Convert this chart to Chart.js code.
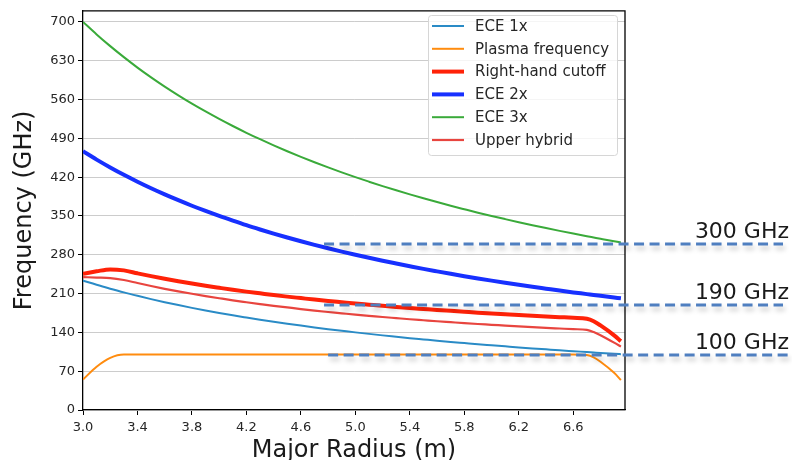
<!DOCTYPE html>
<html lang="en">
<head>
<meta charset="UTF-8">
<title>Frequency vs Major Radius</title>
<script src="https://cdn.jsdelivr.net/npm/chart.js@4.4.0/dist/chart.umd.min.js"></script>
<style>
  html, body { margin: 0; padding: 0; background: #fff; }
  #wrap { width: 792px; height: 460px; }
</style>
</head>
<body>
<div id="wrap"><canvas id="myChart" width="792" height="460"></canvas></div>
<script>
// major radius samples (m)
const radius = [3.0, 3.1, 3.2, 3.3, 3.4, 3.5, 3.6, 3.7, 3.8, 3.9,
                4.0, 4.1, 4.2, 4.3, 4.4, 4.5, 4.6, 4.7, 4.8, 4.9,
                5.0, 5.1, 5.2, 5.3, 5.4, 5.5, 5.6, 5.7, 5.8, 5.9,
                6.0, 6.1, 6.2, 6.3, 6.4, 6.5, 6.6, 6.7, 6.75, 6.8,
                6.9, 6.95];

// frequencies (GHz)
const ece1x = [233.3, 225.8, 218.8, 212.1, 205.9, 200.0, 194.4, 189.2, 184.2, 179.5,
               175.0, 170.7, 166.7, 162.8, 159.1, 155.6, 152.2, 148.9, 145.8, 142.9,
               140.0, 137.3, 134.6, 132.1, 129.6, 127.3, 125.0, 122.8, 120.7, 118.6,
               116.7, 114.8, 112.9, 111.1, 109.4, 107.7, 106.1, 104.5, 103.7, 102.9,
               101.4, 100.7];
const plasmaF = [55, 78, 94, 100, 100, 100, 100, 100, 100, 100,
                 100, 100, 100, 100, 100, 100, 100, 100, 100, 100,
                 100, 100, 100, 100, 100, 100, 100, 100, 100, 100,
                 100, 100, 100, 100, 100, 100, 100, 99, 95, 87,
                 67, 54];
const rhCutoff = [245.6, 250.1, 253.6, 251.8, 246.5, 241.4, 236.7, 232.3, 228.1, 224.1,
                  220.4, 216.8, 213.5, 210.4, 207.3, 204.5, 201.8, 199.1, 196.7, 194.4,
                  192.1, 190.0, 187.9, 185.9, 184.0, 182.2, 180.4, 178.8, 177.2, 175.6,
                  174.1, 172.7, 171.3, 170.0, 168.7, 167.5, 166.3, 164.6, 160.1, 152.5,
                  134.7, 124.2];
const ece2x = [466.7, 451.6, 437.5, 424.2, 411.8, 400.0, 388.9, 378.4, 368.4, 359.0,
               350.0, 341.5, 333.3, 325.6, 318.2, 311.1, 304.3, 297.9, 291.7, 285.7,
               280.0, 274.5, 269.2, 264.2, 259.3, 254.5, 250.0, 245.6, 241.4, 237.3,
               233.3, 229.5, 225.8, 222.2, 218.8, 215.4, 212.1, 209.0, 207.4, 205.9,
               202.9, 201.4];
const ece3x = [700, 677.4, 656.3, 636.4, 617.6, 600, 583.3, 567.6, 552.6, 538.5,
               525, 512.2, 500, 488.4, 477.3, 466.7, 456.5, 446.8, 437.5, 428.6,
               420, 411.8, 403.8, 396.2, 388.9, 381.8, 375, 368.4, 362.1, 355.9,
               350, 344.3, 338.7, 333.3, 328.1, 323.1, 318.2, 313.4, 311.1, 308.8,
               304.3, 302.2];
const upperHyb = [239.7, 238.9, 238.0, 234.4, 229.0, 223.6, 218.6, 214.0, 209.6, 205.5,
                  201.6, 197.8, 194.4, 191.1, 187.9, 185.0, 182.1, 179.4, 176.8, 174.4,
                  172.0, 169.9, 167.7, 165.7, 163.7, 161.9, 160.1, 158.4, 156.7, 155.1,
                  153.7, 152.2, 150.8, 149.5, 148.2, 147.0, 145.8, 144.5, 140.6, 134.8,
                  121.5, 114.3];

const xTicks = [3.0, 3.4, 3.8, 4.2, 4.6, 5.0, 5.4, 5.8, 6.2, 6.6];
const yTicks = [0, 70, 140, 210, 280, 350, 420, 490, 560, 630, 700];

// marker lines on the right
const markFreq  = [300, 190, 100];
const markText  = ['300 GHz', '190 GHz', '100 GHz'];
const markStart = [4.77, 4.77, 4.8];

function pts(arr) {
  return radius.map((r, i) => ({ x: r, y: arr[i] }));
}

function series(label, arr, color, width, order) {
  return {
    label: label,
    data: pts(arr),
    borderColor: color,
    backgroundColor: color,
    borderWidth: width,
    pointRadius: 0,
    cubicInterpolationMode: 'monotone',
    fill: false,
    order: order
  };
}

// legend box in the upper right of the plot
const boxLegend = {
  id: 'boxLegend',
  afterDraw(chart) {
    const ctx = chart.ctx;
    const x = 428, y = 15, w = 189, h = 140;
    ctx.save();
    ctx.fillStyle = 'rgba(255,255,255,0.8)';
    ctx.strokeStyle = '#d6d6d6';
    ctx.lineWidth = 1;
    ctx.beginPath();
    ctx.roundRect(x + 0.5, y + 0.5, w, h, 3);
    ctx.fill();
    ctx.stroke();
    ctx.font = '15px "DejaVu Sans"';
    ctx.textBaseline = 'middle';
    chart.data.datasets.forEach((ds, i) => {
      const cy = 26 + i * 22.8;
      ctx.strokeStyle = ds.borderColor;
      ctx.lineWidth = ds.borderWidth;
      ctx.beginPath();
      ctx.moveTo(432, cy);
      ctx.lineTo(464, cy);
      ctx.stroke();
      ctx.fillStyle = '#262626';
      ctx.fillText(ds.label, 475, cy + 1);
    });
    ctx.restore();
  }
};

// top/right frame plus the dashed frequency markers
const extras = {
  id: 'extras',
  afterDraw(chart) {
    const ctx = chart.ctx;
    const a = chart.chartArea;
    const xs = chart.scales.x, ys = chart.scales.y;
    ctx.save();
    ctx.strokeStyle = '#000';
    ctx.lineWidth = 1.3;
    ctx.beginPath();
    ctx.moveTo(a.left, a.top);
    ctx.lineTo(a.right, a.top);
    ctx.lineTo(a.right, a.bottom);
    ctx.stroke();

    markFreq.forEach((f, i) => {
      const py = Math.round(ys.getPixelForValue(f));
      const x0 = xs.getPixelForValue(markStart[i]);
      ctx.save();
      ctx.shadowColor = 'rgba(0,0,0,0.22)';
      ctx.shadowBlur = 5;
      ctx.shadowOffsetX = 2;
      ctx.shadowOffsetY = 4;
      ctx.strokeStyle = '#4f7fc0';
      ctx.lineWidth = 3;
      ctx.setLineDash([10, 5.5]);
      ctx.beginPath();
      ctx.moveTo(x0, py);
      ctx.lineTo(i === 2 ? 790 : 783, py);
      ctx.stroke();
      ctx.restore();

      ctx.fillStyle = '#1a1a1a';
      ctx.font = '22px "DejaVu Sans"';
      ctx.textAlign = 'right';
      ctx.textBaseline = 'alphabetic';
      ctx.fillText(markText[i], 789, py - 6);
    });
    ctx.restore();
  }
};

const ctx = document.getElementById('myChart');
const myChart = new Chart(ctx, {
  type: 'line',
  data: {
    datasets: [
      series('ECE 1x', ece1x, '#2a8bc6', 2, 6),
      series('Plasma frequency', plasmaF, '#ff8c0f', 2, 5),
      series('Right-hand cutoff', rhCutoff, '#ff2208', 4, 4),
      series('ECE 2x', ece2x, '#1730ff', 4, 3),
      series('ECE 3x', ece3x, '#3aaa3a', 2, 2),
      series('Upper hybrid', upperHyb, '#e8453f', 2.2, 1)
    ]
  },
  options: {
    responsive: false,
    animation: false,
    devicePixelRatio: 1,
    layout: { padding: { left: 0, top: 7, right: 167, bottom: 0 } },
    plugins: {
      legend: { display: false },
      tooltip: { enabled: false }
    },
    scales: {
      x: {
        type: 'linear',
        min: 3.0,
        max: 6.98,
        afterBuildTicks: s => { s.ticks = xTicks.map(v => ({ value: v })); },
        afterFit: s => { s.height = 50; },
        ticks: {
          font: { family: 'DejaVu Sans', size: 13 },
          color: '#262626',
          padding: 5,
          maxRotation: 0,
          callback: v => v.toFixed(1)
        },
        grid: { drawOnChartArea: false, drawTicks: true, tickLength: 5, tickColor: '#000' },
        border: { color: '#000', width: 1.3 },
        title: {
          display: true,
          text: 'Major Radius (m)',
          font: { family: 'DejaVu Sans', size: 24, lineHeight: 1 },
          color: '#1a1a1a',
          padding: { top: 0, bottom: -3 }
        }
      },
      y: {
        min: 0,
        max: 720,
        afterBuildTicks: s => { s.ticks = yTicks.map(v => ({ value: v })); },
        afterFit: s => { s.width = 83; },
        ticks: {
          font: { family: 'DejaVu Sans', size: 13 },
          color: '#262626',
          padding: 3
        },
        grid: { color: '#cccccc', lineWidth: 1, tickLength: 5, tickColor: '#000' },
        border: { color: '#000', width: 1.3 },
        title: {
          display: true,
          text: 'Frequency (GHz)',
          font: { family: 'DejaVu Sans', size: 24, lineHeight: 1 },
          color: '#1a1a1a',
          padding: { top: 13, bottom: 0 }
        }
      }
    }
  },
  plugins: [boxLegend, extras]
});
</script>
</body>
</html>
